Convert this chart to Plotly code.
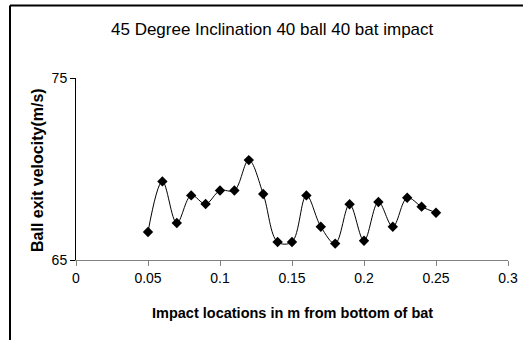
import plotly.graph_objects as go

x_vals = [0.05, 0.06, 0.07, 0.08, 0.09, 0.10, 0.11, 0.12, 0.13, 0.14, 0.15,
          0.16, 0.17, 0.18, 0.19, 0.20, 0.21, 0.22, 0.23, 0.24, 0.25]
velocity = [66.54, 69.32, 67.03, 68.55, 68.08, 68.82, 68.82, 70.49, 68.63, 65.99, 65.99,
            68.55, 66.83, 65.90, 68.06, 66.06, 68.19, 66.83, 68.42, 67.93, 67.60]
x_ticks = [0, 0.05, 0.1, 0.15, 0.2, 0.25, 0.3]
x_tick_text = ["0", "0.05", "0.1", "0.15", "0.2", "0.25", "0.3"]
y_ticks = [65, 75]

W, H = 523, 340
L, R, T, B = 76, 15, 78, 80
pw, ph = W - L - R, H - T - B

fig = go.Figure()
fig.add_trace(go.Scatter(
    x=x_vals, y=velocity, mode="lines+markers",
    line=dict(color="black", width=1, shape="spline", smoothing=1.0),
    marker=dict(symbol="diamond", size=8, color="black"),
    showlegend=False, hoverinfo="skip"))

font = "Liberation Sans, Arial, sans-serif"
fig.update_layout(
    width=W, height=H,
    margin=dict(l=L, r=R, t=T, b=B, pad=0, autoexpand=False),
    paper_bgcolor="white", plot_bgcolor="white",
    font=dict(family=font, size=14, color="black"),
    xaxis=dict(range=[0, 0.3], tickvals=x_ticks, ticktext=x_tick_text,
               showgrid=False, zeroline=False, showline=True, linecolor="#808080",
               linewidth=1, ticks="outside", ticklen=5, tickcolor="#808080",
               tickfont=dict(size=14), automargin=False),
    yaxis=dict(range=[65, 75], tickvals=y_ticks, showgrid=False, zeroline=False,
               showline=True, linecolor="black", linewidth=1, ticks="outside",
               ticklen=5, tickcolor="black", tickfont=dict(size=14), automargin=False),
)

def px_x(px):
    return (px - L) / pw

def px_y(py):
    return (H - B - py) / ph

fig.add_annotation(text="45 Degree Inclination 40 ball 40 bat impact",
                   xref="paper", yref="paper", x=px_x(272), y=px_y(29),
                   xanchor="center", yanchor="middle", showarrow=False,
                   font=dict(size=17, family=font, color="black"))
fig.add_annotation(text="<b>Impact locations in m from bottom of bat</b>",
                   xref="paper", yref="paper", x=px_x(292), y=px_y(313),
                   xanchor="center", yanchor="middle", showarrow=False,
                   font=dict(size=14.5, family=font, color="black"))
fig.add_annotation(text="<b>Ball exit velocity(m/s)</b>",
                   xref="paper", yref="paper", x=px_x(37), y=px_y(170),
                   xanchor="center", yanchor="middle", showarrow=False, textangle=-90,
                   font=dict(size=16, family=font, color="black"))

# outer chart frame (cropped at right and bottom in the reference)
x_left = px_x(10)
x_right = px_x(W + 5)
y_top = px_y(5.5)
y_bot = px_y(H + 5)
fig.add_shape(type="line", xref="paper", yref="paper", x0=x_left, x1=x_left,
              y0=y_bot, y1=y_top, line=dict(color="black", width=2))
fig.add_shape(type="line", xref="paper", yref="paper", x0=x_left, x1=x_right,
              y0=y_top, y1=y_top, line=dict(color="black", width=2))

fig.write_html("out.html", config={"displayModeBar": False, "staticPlot": True},
               post_script="document.body.style.margin='0';document.body.style.overflow='hidden';")
